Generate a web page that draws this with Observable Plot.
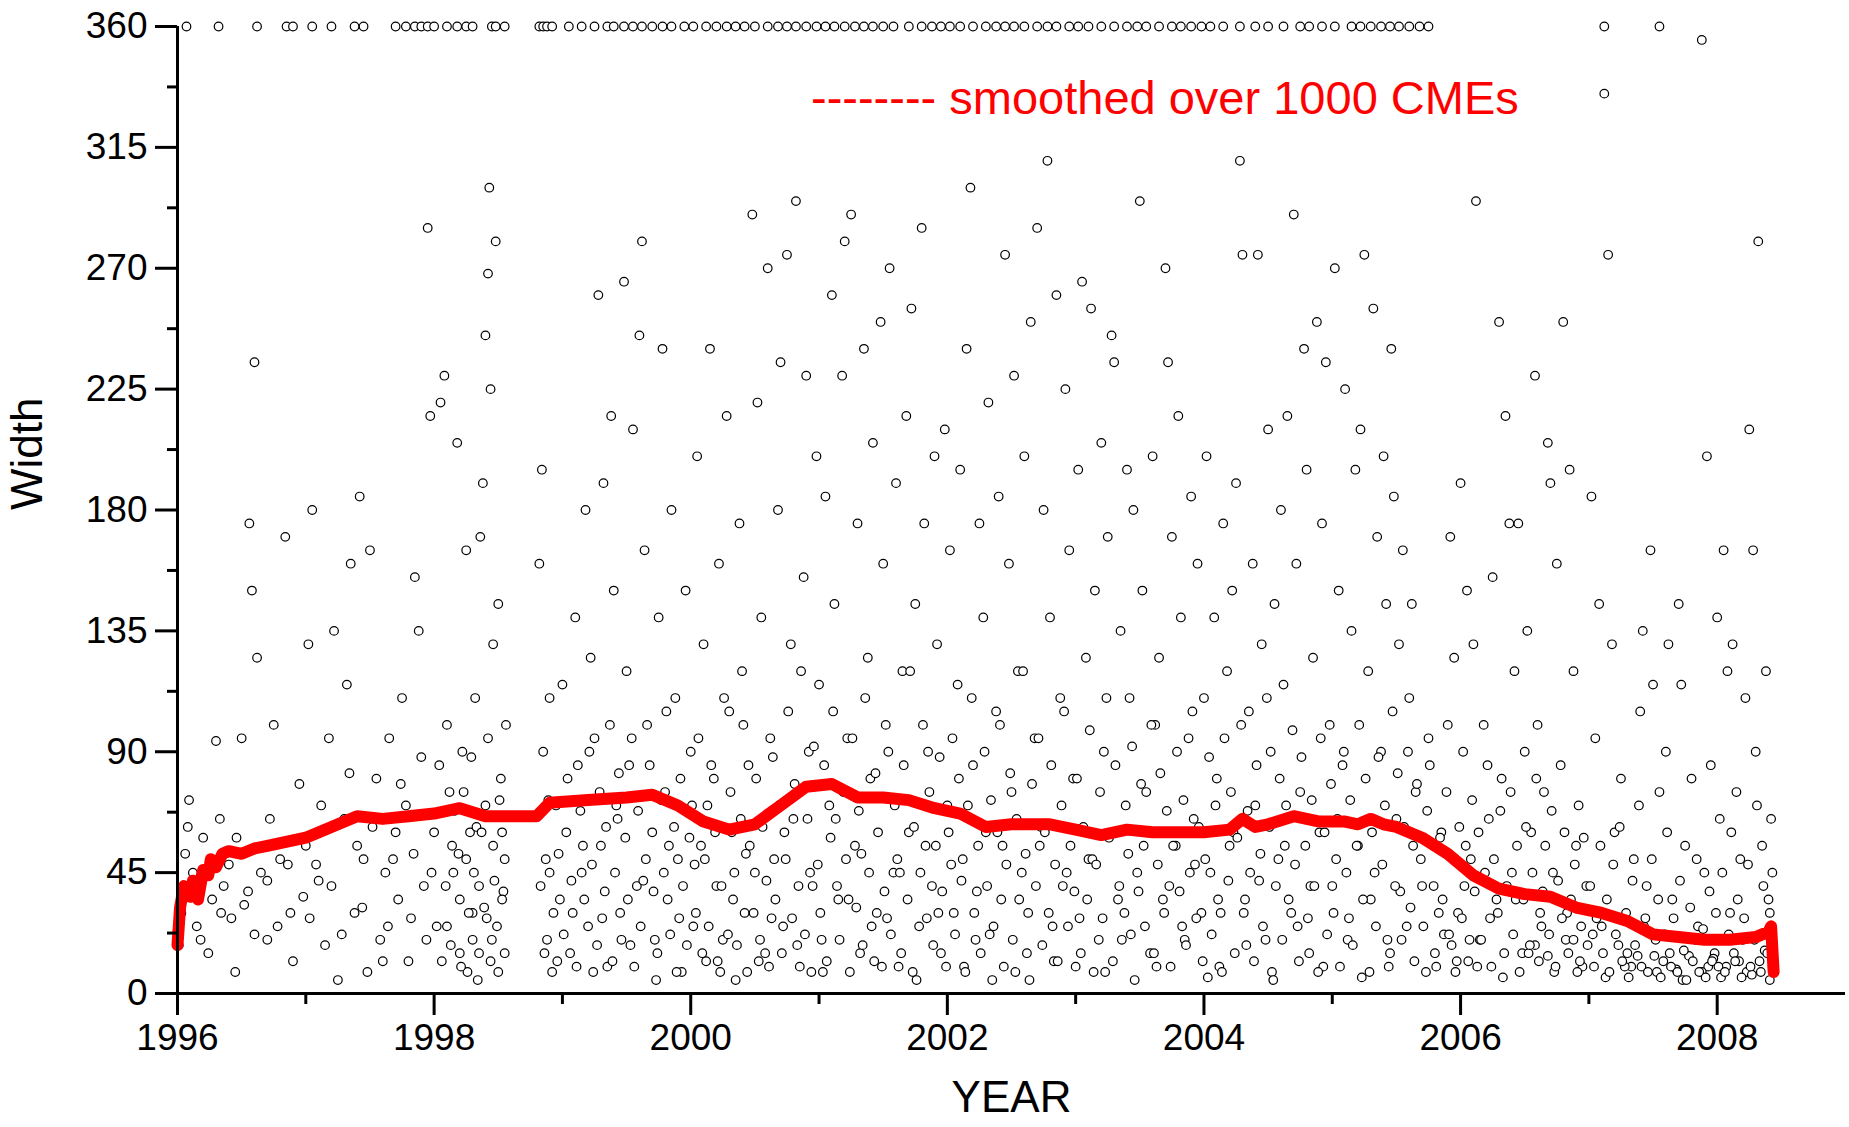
<!DOCTYPE html>
<html><head><meta charset="utf-8">
<script src="https://cdn.jsdelivr.net/npm/d3@7"></script>
<script src="https://cdn.jsdelivr.net/npm/@observablehq/plot@0.6"></script>
<style>
body{margin:0;background:#fff;font-family:Arial,"Liberation Sans",sans-serif}
#wrap{position:relative;width:1849px;height:1127px}
#leg{position:absolute;left:811px;top:70px;font-size:47px;color:#f00;white-space:nowrap}
</style></head><body>
<div id="wrap"><div id="chart"></div><div id="leg">-------- smoothed over 1000 CMEs</div></div>
<script>
const xTicks = [1996,1998,2000,2002,2004,2006,2008];
const yTicks = [0,45,90,135,180,225,270,315,360];
const haloYears = [1996.07,1996.32,1996.62,1996.85,1996.9,1997.05,1997.2,1997.38,1997.45,1997.7,1997.78,1997.85,1997.9,1997.95,1998.0,1998.1,1998.18,1998.25,1998.3,1998.45,1998.48,1998.55,1998.82,1998.85,1998.88,1998.92,1999.05,1999.15,1999.25,1999.35,1999.4,1999.48,1999.55,1999.62,1999.7,1999.78,1999.85,1999.95,2000.02,2000.12,2000.2,2000.28,2000.35,2000.42,2000.5,2000.6,2000.68,2000.75,2000.82,2000.9,2000.98,2001.05,2001.12,2001.2,2001.28,2001.35,2001.42,2001.5,2001.58,2001.7,2001.8,2001.88,2001.95,2002.02,2002.1,2002.2,2002.3,2002.38,2002.45,2002.52,2002.6,2002.7,2002.78,2002.85,2002.95,2003.02,2003.1,2003.2,2003.3,2003.4,2003.48,2003.55,2003.65,2003.75,2003.82,2003.9,2003.98,2004.05,2004.15,2004.28,2004.4,2004.5,2004.62,2004.75,2004.82,2004.92,2005.02,2005.15,2005.22,2005.3,2005.38,2005.45,2005.52,2005.6,2005.68,2005.75,2007.12,2007.55];
const cmes = [
[1996.01,18],[1996.03,30],[1996.06,52],[1996.09,72],[1996.12,45],[1996.15,25],[1996.18,20],[1996.2,58],[1996.24,15],[1996.27,35],[1996.3,94],[1996.33,65],[1996.36,40],[1996.42,28],[1996.45,8],[1996.5,95],[1996.52,33],[1996.56,175],[1996.58,150],[1996.6,235],[1996.62,125],[1996.65,45],[1996.7,20],[1996.75,100],[1996.8,50],[1996.84,170],[1996.88,30],[1996.9,12],[1996.95,78],[1997.0,55],[1997.02,130],[1997.05,180],[1997.1,42],[1997.15,18],[1997.18,95],[1997.22,135],[1997.25,5],[1997.3,65],[1997.32,115],[1997.35,160],[1997.38,30],[1997.42,185],[1997.45,50],[1997.48,8],[1997.5,165],[1997.55,80],[1997.58,20],[1997.62,45],[1997.65,95],[1997.7,60],[1997.72,35],[1997.75,110],[1997.78,70],[1997.8,12],[1997.85,155],[1997.88,135],[1997.9,88],[1997.92,40],[1997.95,285],[1997.97,215],[1998.0,60],[1998.02,25],[1998.05,220],[1998.08,230],[1998.1,100],[1998.12,75],[1998.15,45],[1998.18,205],[1998.2,15],[1998.22,90],[1998.25,165],[1998.28,60],[1998.3,30],[1998.32,110],[1998.34,5],[1998.36,170],[1998.38,190],[1998.4,245],[1998.42,268],[1998.43,300],[1998.44,225],[1998.46,130],[1998.48,280],[1998.5,145],[1998.52,80],[1998.54,38],[1998.55,15],[1998.56,100],[1998.25,50],[1998.3,20],[1998.35,40],[1998.4,70],[1998.45,20],[1998.5,8],[1998.2,35],[1998.1,25],
[1998.82,160],[1998.84,195],[1998.85,90],[1998.87,50],[1998.88,20],[1998.9,110],[1998.92,8],[1998.95,70],[1998.98,35],[1999.0,115],[1999.03,60],[1999.06,15],[1999.1,140],[1999.12,85],[1999.15,45],[1999.18,180],[1999.2,25],[1999.22,125],[1999.25,95],[1999.28,260],[1999.3,55],[1999.32,190],[1999.35,10],[1999.38,215],[1999.4,150],[1999.42,70],[1999.45,30],[1999.48,265],[1999.5,120],[1999.52,85],[1999.55,210],[1999.58,40],[1999.6,245],[1999.62,280],[1999.64,165],[1999.66,100],[1999.7,60],[1999.72,20],[1999.75,140],[1999.78,240],[1999.8,75],[1999.82,35],[1999.85,180],[1999.88,110],[1999.9,50],[1999.93,8],[1999.96,150],[2000.0,90],[2000.02,25],[2000.05,200],[2000.08,55],[2000.1,130],[2000.12,12],[2000.15,240],[2000.18,80],[2000.2,40],[2000.22,160],[2000.25,20],[2000.28,215],[2000.3,105],[2000.32,60],[2000.35,5],[2000.38,175],[2000.4,120],[2000.42,30],[2000.45,85],[2000.48,290],[2000.5,45],[2000.52,220],[2000.55,140],[2000.58,15],[2000.6,270],[2000.62,95],[2000.65,50],[2000.68,180],[2000.7,235],[2000.72,25],[2000.75,275],[2000.78,130],[2000.8,65],[2000.82,295],[2000.85,10],[2000.88,155],[2000.9,230],[2000.92,90],[2000.95,40],[2000.98,200],[2001.0,115],[2001.02,20],[2001.05,185],[2001.08,70],[2001.1,260],[2001.12,145],[2001.15,35],[2001.18,230],[2001.2,280],[2001.22,95],[2001.25,290],[2001.28,55],[2001.3,175],[2001.32,15],[2001.35,240],[2001.38,125],[2001.4,80],[2001.42,205],[2001.45,30],[2001.48,250],[2001.5,160],[2001.52,100],[2001.55,270],[2001.58,45],[2001.6,190],[2001.62,10],[2001.65,120],[2001.68,215],[2001.7,60],[2001.72,255],[2001.75,145],[2001.78,25],[2001.8,285],[2001.82,175],[2001.85,90],[2001.88,40],[2001.9,200],[2001.92,130],[2001.95,15],[2001.98,210],[2002.0,70],[2002.02,165],[2002.05,30],[2002.08,115],[2002.1,195],[2002.12,50],[2002.15,240],[2002.18,300],[2002.2,85],[2002.22,20],[2002.25,175],[2002.28,140],[2002.3,60],[2002.32,220],[2002.35,5],[2002.38,105],[2002.4,185],[2002.42,35],[2002.45,275],[2002.48,160],[2002.5,75],[2002.52,230],[2002.55,120],[2002.58,45],[2002.6,200],[2002.62,15],[2002.65,250],[2002.68,95],[2002.7,285],[2002.72,55],[2002.75,180],[2002.78,310],[2002.8,140],[2002.82,25],[2002.85,260],[2002.88,110],[2002.9,40],[2002.92,225],[2002.95,165],[2002.98,80],[2003.0,10],[2003.02,195],[2003.05,265],[2003.08,125],[2003.1,50],[2003.12,255],[2003.15,150],[2003.18,20],[2003.2,205],[2003.22,90],[2003.25,170],[2003.28,245],[2003.3,235],[2003.32,60],[2003.35,135],[2003.38,30],[2003.4,195],[2003.42,110],[2003.45,180],[2003.48,45],[2003.5,295],[2003.52,150],[2003.55,75],[2003.58,15],[2003.6,200],[2003.62,100],[2003.65,125],[2003.68,35],[2003.7,270],[2003.72,235],[2003.75,170],[2003.78,55],[2003.8,215],[2003.82,140],[2003.85,20],[2003.88,95],[2003.9,185],[2003.92,65],[2003.95,160],[2003.98,30],[2004.0,110],[2004.02,200],[2004.05,45],[2004.08,140],[2004.1,80],[2004.12,10],[2004.15,175],[2004.18,120],[2004.2,55],[2004.22,150],[2004.25,190],[2004.28,310],[2004.3,275],[2004.32,35],[2004.35,105],[2004.38,160],[2004.4,70],[2004.42,275],[2004.45,130],[2004.48,20],[2004.5,210],[2004.52,90],[2004.55,145],[2004.58,50],[2004.6,180],[2004.62,115],[2004.65,215],[2004.68,30],[2004.7,290],[2004.72,160],[2004.75,75],[2004.78,240],[2004.8,195],[2004.82,15],[2004.85,125],[2004.88,250],[2004.9,60],[2004.92,175],[2004.95,235],[2004.98,100],[2005.0,40],[2005.02,270],[2005.05,150],[2005.08,85],[2005.1,225],[2005.12,20],[2005.15,135],[2005.18,195],[2005.2,55],[2005.22,210],[2005.25,275],[2005.28,120],[2005.3,35],[2005.32,255],[2005.35,170],[2005.38,90],[2005.4,200],[2005.42,145],[2005.44,10],[2005.46,240],[2005.48,185],[2005.5,65],[2005.52,130],[2005.55,165],[2005.58,25],[2005.6,110],[2005.62,145],[2005.65,75],[2005.7,40],[2005.75,95],[2005.8,15],[2005.85,60],[2005.9,100],[2005.92,170],[2005.95,125],[2005.98,30],[2006.0,190],[2006.02,90],[2006.05,150],[2006.08,50],[2006.1,130],[2006.12,295],[2006.15,20],[2006.18,100],[2006.22,65],[2006.25,155],[2006.28,35],[2006.3,250],[2006.32,80],[2006.35,215],[2006.38,175],[2006.4,45],[2006.42,120],[2006.45,175],[2006.48,15],[2006.5,90],[2006.52,135],[2006.55,60],[2006.58,230],[2006.6,100],[2006.62,30],[2006.65,75],[2006.68,205],[2006.7,190],[2006.72,45],[2006.75,160],[2006.78,85],[2006.8,250],[2006.82,20],[2006.85,195],[2006.88,120],[2006.9,55],[2006.92,70],[2006.95,10],[2006.98,40],[2007.02,185],[2007.05,95],[2007.08,145],[2007.1,25],[2007.12,335],[2007.15,275],[2007.18,130],[2007.2,60],[2007.25,80],[2007.3,15],[2007.35,50],[2007.4,105],[2007.42,135],[2007.45,40],[2007.48,165],[2007.5,115],[2007.52,20],[2007.55,75],[2007.6,90],[2007.62,130],[2007.65,35],[2007.7,145],[2007.72,115],[2007.75,55],[2007.8,80],[2007.85,25],[2007.88,355],[2007.9,45],[2007.92,200],[2007.95,85],[2007.98,15],[2008.0,140],[2008.02,65],[2008.05,165],[2008.08,120],[2008.1,30],[2008.12,130],[2008.15,75],[2008.18,50],[2008.2,20],[2008.22,110],[2008.25,210],[2008.28,165],[2008.3,90],[2008.32,280],[2008.35,55],[2008.38,120],[2008.4,35],[2008.42,65],[2008.44,12],
[1996.4,48],[1996.55,38],[1996.7,42],[1996.78,25],[1996.98,36],[1997.08,48],[1997.28,22],[1997.4,55],[1997.6,12],[1997.68,50],[1997.82,28],[1997.98,45],[1998.06,12],[1998.14,55],[1998.26,8],[1998.33,62],[1998.41,28],[1998.47,42],[1998.53,60],[1998.9,45],[1998.96,12],[1999.08,30],[1999.16,55],[1999.24,8],[1999.33,38],[1999.43,65],[1999.53,18],[1999.63,42],[1999.73,5],[1999.83,55],[1999.91,28],[2000.03,48],[2000.13,70],[2000.23,8],[2000.33,35],[2000.43,52],[2000.53,12],[2000.63,28],[2000.73,60],[2000.83,18],[2000.93,45],[2001.03,8],[2001.13,65],[2001.23,35],[2001.33,52],[2001.43,12],[2001.53,28],[2001.63,45],[2001.73,8],[2001.83,55],[2001.93,30],[2002.03,48],[2002.13,10],[2002.23,38],[2002.33,22],[2002.43,55],[2002.53,8],[2002.63,30],[2002.73,62],[2002.83,12],[2002.93,45],[2003.03,28],[2003.13,50],[2003.23,8],[2003.33,35],[2003.43,22],[2003.53,55],[2003.63,10],[2003.73,40],[2003.83,25],[2003.93,48],[2004.03,6],[2004.13,30],[2004.23,60],[2004.33,18],[2004.43,42],[2004.53,8],[2004.63,55],[2004.73,25],[2004.83,40],[2004.93,10],[2005.03,50],[2005.13,28],[2005.23,6],[2005.33,45],[2005.43,20],[2005.53,38],[2005.63,55],[2005.73,8],[2005.83,30],[2005.93,18],[2006.03,40],[2006.13,10],[2006.23,28],[2006.33,6],[2006.43,35],[2006.53,15],[2006.63,25],[2006.73,8],[2006.83,30],[2006.93,12],[2007.03,22],[2007.13,6],[2007.23,18],[2007.33,10],[2007.43,25],[2007.53,8],[2007.63,15],[2007.73,5],[2007.83,20],[2007.93,10],[2008.03,6],[2008.13,15],[2008.23,8],[2008.33,12],[2008.41,5],
[2007.28,10],[2007.38,14],[2007.58,12],[2007.68,9],[2007.78,14],[2007.88,8],[2007.97,13],[2008.07,10],[2008.17,12],[2008.27,7],[2008.37,16],[2006.58,18],[2006.68,14],[2006.88,20],[2005.87,22],[2005.97,12],[2006.07,20],
[1996.08,62],[1996.22,44],[1996.34,30],[1996.46,58],[1996.6,22],[1996.72,65],[1996.86,48],[1997.03,28],[1997.12,70],[1997.2,40],[1997.34,82],[1997.44,32],[1997.52,62],[1997.64,25],[1997.74,78],[1997.84,52],[1997.94,20],[1998.04,85],[1998.09,40],[1998.13,18],[1998.16,68],[1998.19,52],[1998.21,10],[1998.23,75],[1998.27,30],[1998.29,88],[1998.31,45],[1998.35,15],[1998.37,60],[1998.39,32],[1998.42,95],[1998.44,12],[1998.46,55],[1998.49,25],[1998.51,72],[1998.53,35],[1998.55,50],
[1998.83,40],[1998.86,15],[1998.89,72],[1998.93,30],[1998.97,52],[1999.01,22],[1999.04,80],[1999.07,42],[1999.11,10],[1999.14,68],[1999.17,35],[1999.21,90],[1999.23,48],[1999.27,18],[1999.29,75],[1999.31,28],[1999.34,62],[1999.37,100],[1999.39,12],[1999.41,45],[1999.44,82],[1999.46,20],[1999.49,58],[1999.51,35],[1999.54,95],[1999.56,10],[1999.59,68],[1999.61,25],[1999.65,50],[1999.68,85],[1999.71,38],[1999.74,15],[1999.77,72],[1999.79,45],[1999.81,105],[1999.84,22],[1999.87,62],[1999.89,8],[1999.92,80],[1999.94,40],[1999.97,18],[1999.99,58],
[2000.01,70],[2000.04,30],[2000.06,95],[2000.09,15],[2000.11,50],[2000.14,25],[2000.16,85],[2000.19,60],[2000.21,12],[2000.24,40],[2000.26,110],[2000.29,22],[2000.31,75],[2000.34,45],[2000.36,18],[2000.39,65],[2000.41,100],[2000.44,8],[2000.46,55],[2000.49,30],[2000.51,80],[2000.54,20],[2000.56,62],[2000.59,42],[2000.61,10],[2000.64,88],[2000.66,35],[2000.69,70],[2000.71,15],[2000.74,50],[2000.76,105],[2000.79,28],[2000.81,78],[2000.84,40],[2000.86,120],[2000.89,22],[2000.91,65],[2000.94,8],[2000.96,92],[2000.99,48],
[2001.01,30],[2001.04,85],[2001.06,12],[2001.09,58],[2001.11,105],[2001.14,40],[2001.16,20],[2001.19,75],[2001.21,50],[2001.24,8],[2001.26,95],[2001.29,32],[2001.31,68],[2001.34,18],[2001.36,110],[2001.39,45],[2001.41,25],[2001.44,82],[2001.46,60],[2001.49,10],[2001.51,38],[2001.54,90],[2001.56,22],[2001.59,70],[2001.61,50],[2001.64,15],[2001.66,85],[2001.69,35],[2001.71,120],[2001.74,62],[2001.76,5],[2001.79,45],[2001.81,100],[2001.84,28],[2001.86,75],[2001.89,18],[2001.91,55],[2001.94,88],[2001.96,38],[2001.99,10],
[2002.01,60],[2002.04,95],[2002.06,22],[2002.09,80],[2002.11,42],[2002.14,8],[2002.16,70],[2002.19,110],[2002.21,30],[2002.24,55],[2002.26,15],[2002.29,90],[2002.31,40],[2002.34,72],[2002.36,25],[2002.39,60],[2002.41,100],[2002.44,10],[2002.46,48],[2002.49,82],[2002.51,20],[2002.54,65],[2002.56,35],[2002.59,120],[2002.61,52],[2002.64,5],[2002.66,78],[2002.69,40],[2002.71,95],[2002.74,18],[2002.76,60],[2002.79,30],[2002.81,85],[2002.84,48],[2002.86,12],[2002.89,70],[2002.91,105],[2002.94,25],[2002.96,55],[2002.99,38],
[2003.01,80],[2003.04,15],[2003.06,62],[2003.09,35],[2003.11,98],[2003.14,8],[2003.16,48],[2003.19,75],[2003.21,28],[2003.24,110],[2003.26,58],[2003.29,12],[2003.31,85],[2003.34,40],[2003.36,20],[2003.39,70],[2003.41,52],[2003.44,92],[2003.46,5],[2003.49,38],[2003.51,78],[2003.54,25],[2003.56,60],[2003.59,100],[2003.61,15],[2003.64,48],[2003.66,82],[2003.69,30],[2003.71,68],[2003.74,10],[2003.76,55],[2003.79,90],[2003.81,38],[2003.84,72],[2003.86,18],[2003.89,45],[2003.91,105],[2003.94,28],[2003.96,62],[2003.99,12],
[2004.01,50],[2004.04,88],[2004.06,22],[2004.09,70],[2004.11,35],[2004.14,8],[2004.16,95],[2004.19,42],[2004.21,75],[2004.24,15],[2004.26,58],[2004.29,100],[2004.31,30],[2004.34,68],[2004.36,45],[2004.39,12],[2004.41,85],[2004.44,52],[2004.46,25],[2004.49,110],[2004.51,62],[2004.54,5],[2004.56,40],[2004.59,80],[2004.61,20],[2004.64,70],[2004.66,35],[2004.69,98],[2004.71,48],[2004.74,12],[2004.76,88],[2004.79,55],[2004.81,28],[2004.84,72],[2004.86,40],[2004.89,8],[2004.91,95],[2004.94,60],[2004.96,22],[2004.99,78],
[2005.01,30],[2005.04,65],[2005.06,10],[2005.09,90],[2005.11,45],[2005.14,72],[2005.16,18],[2005.19,55],[2005.21,100],[2005.24,35],[2005.26,80],[2005.29,8],[2005.31,60],[2005.34,25],[2005.36,88],[2005.39,48],[2005.41,70],[2005.45,15],[2005.47,105],[2005.49,40],[2005.51,82],[2005.54,20],[2005.56,62],[2005.59,90],[2005.61,32],[2005.64,12],[2005.66,78],[2005.69,50],[2005.71,25],[2005.74,68],[2005.76,85],[2005.79,40],[2005.81,10],[2005.84,58],[2005.86,35],[2005.89,75],[2005.91,22],[2005.94,50],[2005.96,8],[2005.99,62],
[2006.01,28],[2006.04,55],[2006.06,12],[2006.09,72],[2006.11,38],[2006.14,60],[2006.16,20],[2006.19,45],[2006.21,85],[2006.24,10],[2006.26,50],[2006.29,30],[2006.31,68],[2006.34,15],[2006.36,40],[2006.39,75],[2006.41,22],[2006.44,55],[2006.46,8],[2006.49,35],[2006.51,62],[2006.54,18],[2006.56,45],[2006.59,80],[2006.61,12],[2006.64,38],[2006.66,55],[2006.69,22],[2006.71,68],[2006.74,10],[2006.76,42],[2006.79,28],[2006.81,60],[2006.84,15],[2006.86,35],[2006.89,48],[2006.91,8],[2006.94,25],[2006.96,58],[2006.99,18],
[2007.01,40],[2007.04,10],[2007.06,28],[2007.09,55],[2007.11,15],[2007.14,35],[2007.16,8],[2007.19,48],[2007.21,22],[2007.24,62],[2007.26,12],[2007.29,30],[2007.31,6],[2007.34,42],[2007.36,18],[2007.39,70],[2007.41,10],[2007.44,28],[2007.46,8],[2007.49,50],[2007.51,14],[2007.54,35],[2007.56,6],[2007.59,22],[2007.61,60],[2007.64,10],[2007.66,28],[2007.69,8],[2007.71,42],[2007.74,16],[2007.76,5],[2007.79,32],[2007.81,12],[2007.84,50],[2007.86,8],[2007.89,24],[2007.91,6],[2007.94,38],[2007.96,12],[2007.99,30],
[2008.01,10],[2008.04,45],[2008.06,8],[2008.09,22],[2008.11,60],[2008.14,12],[2008.16,35],[2008.19,6],[2008.21,28],[2008.24,48],[2008.26,10],[2008.29,20],[2008.31,70],[2008.34,8],[2008.36,40],[2008.39,15],[2008.41,30],[2008.43,45]
];
const smoothX = [1996.0,1996.02,1996.05,1996.1,1996.12,1996.16,1996.2,1996.24,1996.26,1996.3,1996.35,1996.4,1996.5,1996.6,1996.7,1996.8,1996.9,1997.0,1997.2,1997.4,1997.6,1997.8,1998.0,1998.2,1998.4,1998.6,1998.8,1998.9,1999.2,1999.5,1999.7,1999.9,2000.1,2000.3,2000.5,2000.7,2000.9,2001.1,2001.3,2001.5,2001.7,2001.9,2002.1,2002.3,2002.5,2002.8,2003.0,2003.2,2003.4,2003.6,2003.8,2004.0,2004.2,2004.3,2004.4,2004.5,2004.7,2004.9,2005.1,2005.2,2005.3,2005.4,2005.5,2005.7,2005.9,2006.1,2006.3,2006.5,2006.7,2006.9,2007.1,2007.3,2007.5,2007.7,2007.9,2008.1,2008.3,2008.4,2008.42,2008.44];
const smoothY = [18,32,40,36,42,35,46,44,50,47,52,53,52,54,55,56,57,58,62,66,65,66,67,69,66,66,66,71,72,73,74,70,64,61,63,70,77,78,73,73,72,69,67,62,63,63,61,59,61,60,60,60,61,65,62,63,66,64,64,63,65,63,62,58,52,44,39,37,36,32,30,27,22,21,20,20,21,23,25,8];
const smooth = smoothX.map((x,i)=>({x,y:smoothY[i]}));
const pts = cmes.concat(haloYears.map(t=>[t,360]));
const plot = Plot.plot({
  width:1849, height:1127, marginLeft:177, marginTop:26, marginRight:4, marginBottom:134,
  style:{fontFamily:"Arial, 'Liberation Sans', sans-serif", fontSize:"30px", color:"#000", background:"transparent"},
  x:{domain:[1996,2009], label:null}, y:{domain:[0,360], label:null},
  marks:[
    Plot.dot(pts,{x:d=>d[0],y:d=>d[1],r:4.3,stroke:"#000",strokeWidth:1.2,fill:"#fff"}),
    Plot.line(smooth,{x:"x",y:"y",stroke:"#f00",strokeWidth:12,curve:"linear"}),
    Plot.axisX({ticks:d3.range(1997,2009,2),tickSize:11,tickFormat:()=>"",strokeWidth:3,label:null}),
    Plot.axisX({ticks:xTicks,tickSize:22,tickFormat:d=>String(d),tickPadding:8,fontSize:37,strokeWidth:3,label:null}),
    Plot.axisY({ticks:d3.range(22.5,360,45),tickSize:10,tickFormat:()=>"",strokeWidth:3,label:null}),
    Plot.axisY({ticks:yTicks,tickSize:22,tickPadding:8,fontSize:37,strokeWidth:3,label:null}),
    Plot.ruleY([0],{strokeWidth:3}),
    Plot.ruleX([1996],{strokeWidth:3}),
    Plot.text(["YEAR"],{frameAnchor:"bottom",dy:118,fontSize:44}),
    Plot.text(["Width"],{frameAnchor:"left",dx:-150,rotate:-90,fontSize:44})
  ]
});
document.getElementById("chart").appendChild(plot);
</script></body></html>
